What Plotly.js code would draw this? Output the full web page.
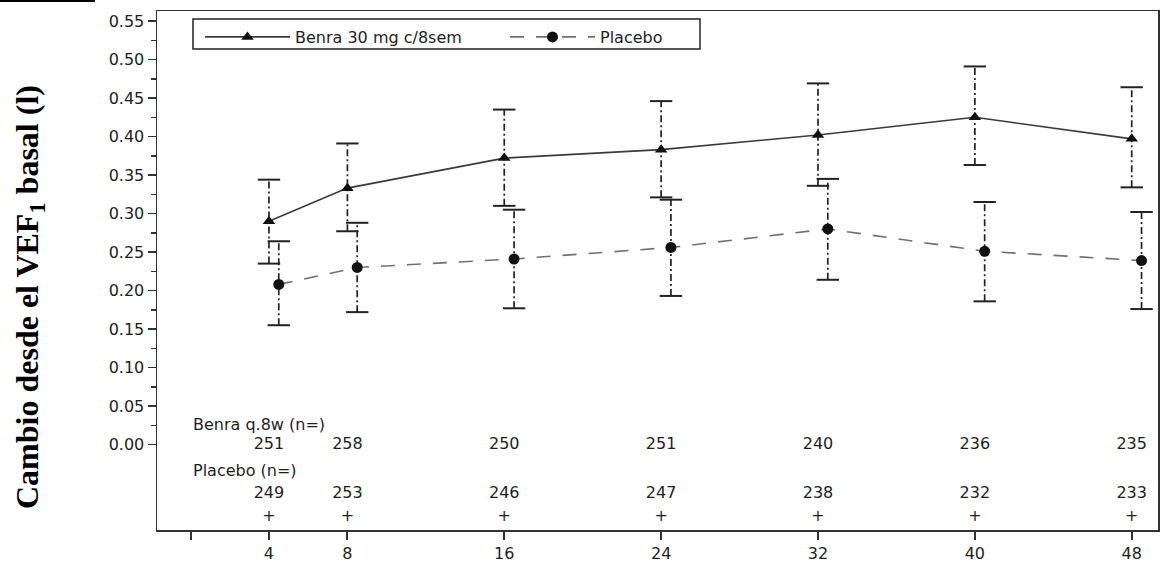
<!DOCTYPE html>
<html><head><meta charset="utf-8">
<script src="https://cdn.plot.ly/plotly-3.0.1.min.js"></script>
<style>html,body{margin:0;padding:0;background:#fff;} #chart{width:1171px;height:572px;}</style>
</head><body><div id="chart"></div>
<script>
// ---- data ----
const weeks = [4, 8, 16, 24, 32, 40, 48];
const benraMean = [0.290, 0.333, 0.372, 0.383, 0.402, 0.425, 0.397];
const benraLow  = [0.235, 0.277, 0.310, 0.321, 0.336, 0.363, 0.334];
const benraHigh = [0.344, 0.391, 0.435, 0.446, 0.469, 0.491, 0.464];
const placeboMean = [0.208, 0.230, 0.241, 0.256, 0.280, 0.251, 0.239];
const placeboLow  = [0.155, 0.172, 0.177, 0.193, 0.214, 0.186, 0.176];
const placeboHigh = [0.264, 0.288, 0.305, 0.318, 0.345, 0.315, 0.302];
const nBenra = [251, 258, 250, 251, 240, 236, 235];
const nPlacebo = [249, 253, 246, 247, 238, 232, 233];
const seriesNames = ['Benra 30 mg c/8sem', 'Placebo'];
const rowLabels = ['Benra q.8w (n=)', 'Placebo (n=)'];
const rowMarker = '+';
const xTickVals = [4, 8, 16, 24, 32, 40, 48];
const xTickText = ['4', '8', '16', '24', '32', '40', '48'];
const xUnlabeledTicks = [0];
const yTickVals = [0, 0.05, 0.10, 0.15, 0.20, 0.25, 0.30, 0.35, 0.40, 0.45, 0.50, 0.55];
const yAxisTitle = 'Cambio desde el VEF<sub>1</sub> basal (l)';

// ---- style / layout constants ----
const PLACEBO_OFFSET = 0.5;
const ROW_Y = {label1: 0.0255, n1: 0.0, label2: -0.033, n2: -0.0635, plus: -0.094};
const FONT = 'DejaVu Sans, Arial, sans-serif';
const TXT = '#1e1e1e';
const W = 1171, H = 572, ML = 157, MR = 13, MT = 11, MB = 42;
const PW = W - ML - MR, PH = H - MT - MB;
const px = x => (x - ML) / PW;
const py = y => (H - MB - y) / PH;

const placeboX = weeks.map(w => w + PLACEBO_OFFSET);

function segTrace(xs, lo, hi) {
  const x = [], y = [];
  xs.forEach((v, i) => { x.push(v, v, null); y.push(lo[i], hi[i], null); });
  return {x, y, type: 'scatter', mode: 'lines', showlegend: false, hoverinfo: 'skip',
    line: {color: '#222', width: 1.7, dash: '7px,3px,2px,3px'}};
}
function capTrace(xs, lo, hi) {
  return {x: xs.concat(xs), y: lo.concat(hi), type: 'scatter', mode: 'markers',
    showlegend: false, hoverinfo: 'skip',
    marker: {symbol: 'line-ew', size: 16, color: '#222', line: {width: 2, color: '#222'}}};
}
function textRow(xs, yv, texts) {
  return {x: xs, y: xs.map(() => yv), text: texts.map(String), type: 'scatter', mode: 'text',
    showlegend: false, hoverinfo: 'skip', cliponaxis: false,
    textposition: 'middle center', textfont: {family: FONT, size: 16, color: TXT}};
}

const traces = [
  segTrace(weeks, benraLow, benraHigh),
  segTrace(placeboX, placeboLow, placeboHigh),
  capTrace(weeks, benraLow, benraHigh),
  capTrace(placeboX, placeboLow, placeboHigh),
  {x: weeks, y: benraMean, name: seriesNames[0], type: 'scatter', mode: 'lines+markers',
   legend: 'legend',
   line: {color: '#3a3a3a', width: 1.6},
   marker: {symbol: 'triangle-up', size: 11, color: '#111'}},
  {x: placeboX, y: placeboMean, name: seriesNames[1], type: 'scatter', mode: 'lines+markers',
   legend: 'legend2',
   line: {color: '#707070', width: 1.6, dash: '14px,12px'},
   marker: {symbol: 'circle', size: 11, color: '#111'}},
  textRow(weeks, ROW_Y.n1, nBenra),
  textRow(weeks, ROW_Y.n2, nPlacebo),
  textRow(weeks, ROW_Y.plus, weeks.map(() => rowMarker))
];

const minorY = yTickVals.slice(1).map((v, i) => (v + yTickVals[i]) / 2);

const axisCommon = {showline: true, linecolor: '#333', linewidth: 1.5, mirror: true,
  showgrid: false, zeroline: false, ticks: 'outside', tickcolor: '#333',
  tickfont: {family: FONT, size: 16, color: TXT}};

const legendCommon = {orientation: 'h', xanchor: 'left', yanchor: 'top', y: py(20),
  bgcolor: 'rgba(0,0,0,0)', borderwidth: 0, itemwidth: 85,
  font: {family: FONT, size: 16, color: TXT}};

const layout = {
  width: W, height: H,
  margin: {l: ML, r: MR, t: MT, b: MB, pad: 0},
  paper_bgcolor: '#fff', plot_bgcolor: '#fff',
  showlegend: true,
  xaxis: Object.assign({}, axisCommon, {range: [-1.71, 49.34], tickmode: 'array',
    tickvals: xTickVals, ticktext: xTickText, ticklen: 8, tickwidth: 2,
    minor: {tickmode: 'array', tickvals: xUnlabeledTicks, ticks: 'outside', ticklen: 8, tickwidth: 2, tickcolor: '#333'}}),
  yaxis: Object.assign({}, axisCommon, {range: [-0.1109, 0.563], tickmode: 'array',
    tickvals: yTickVals, tickformat: '.2f', ticklen: 8, tickwidth: 1.5,
    minor: {tickmode: 'array', tickvals: minorY, ticks: 'outside', ticklen: 5, tickwidth: 1.5, tickcolor: '#333'}}),
  legend: Object.assign({}, legendCommon, {x: px(200)}),
  legend2: Object.assign({}, legendCommon, {x: px(505)}),
  shapes: [
    {type: 'rect', xref: 'paper', yref: 'paper', x0: px(193), x1: px(700), y0: py(49), y1: py(19),
     line: {color: '#222', width: 1.5}, fillcolor: 'rgba(0,0,0,0)'},
    {type: 'line', xref: 'paper', yref: 'paper', x0: px(0), x1: px(95), y0: py(1), y1: py(1),
     line: {color: '#000', width: 2}}
  ],
  annotations: [
    {text: rowLabels[0], x: 0, y: ROW_Y.label1, xref: 'x', yref: 'y', xanchor: 'left', yanchor: 'middle',
     showarrow: false, font: {family: FONT, size: 16, color: TXT}},
    {text: rowLabels[1], x: 0, y: ROW_Y.label2, xref: 'x', yref: 'y', xanchor: 'left', yanchor: 'middle',
     showarrow: false, font: {family: FONT, size: 16, color: TXT}},
    {text: yAxisTitle, textangle: -90, x: px(29), y: py(297), xref: 'paper', yref: 'paper',
     xanchor: 'center', yanchor: 'middle', showarrow: false,
     font: {family: 'Liberation Serif, Times New Roman, serif', size: 32, color: '#000', weight: 'bold'}}
  ]
};

Plotly.newPlot('chart', traces, layout, {staticPlot: true, displayModeBar: false});
</script>
</body></html>
